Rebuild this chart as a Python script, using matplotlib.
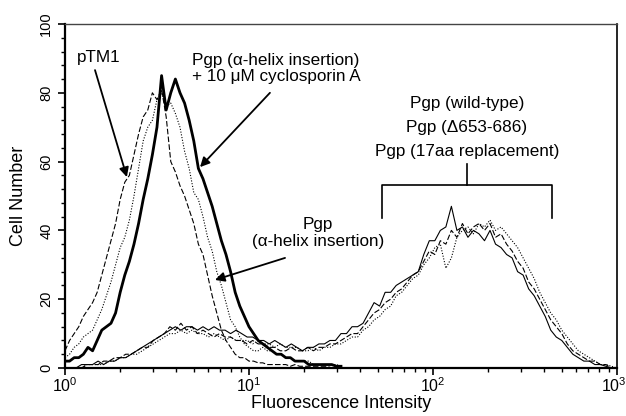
import numpy as np
import matplotlib
matplotlib.use("Agg")
import matplotlib.pyplot as plt
from matplotlib.ticker import FixedLocator, MultipleLocator, FuncFormatter

plt.rcParams['font.family'] = ['Liberation Sans', 'DejaVu Sans']
plt.rcParams['mathtext.fontset'] = 'custom'
plt.rcParams['mathtext.rm'] = 'Liberation Sans'

# channel grids (log10 of fluorescence), histogram bins are log spaced
left_log = np.arange(0, 61) * 0.025     # 10^0 .. 10^1.5
right_log = np.arange(0, 101) * 0.03    # 10^0 .. 10^3

# left group: low-expressing / cyclosporin treated
csa_counts = [2, 2, 3, 3, 4, 6, 5, 8, 11, 12, 13, 16, 22, 27, 31, 36, 42, 49, 55, 62,
              70, 85, 75, 80, 84, 80, 77, 72, 66, 58, 55, 51, 47, 42, 37, 33, 28, 22, 18, 15,
              12, 10, 8, 7, 6, 5, 4, 4, 3, 3, 2, 2, 2, 1, 1, 1, 1, 1, 1, 0.5, 0.5]
ptm1_counts = [5, 8, 10, 12, 15, 17, 19, 22, 27, 32, 37, 42, 49, 54, 56, 62, 68, 73, 75, 80,
               78, 81, 73, 60, 57, 53, 50, 46, 42, 36, 33, 27, 21, 16, 11, 8, 6, 4, 3, 3,
               2, 2, 1.5, 1.5, 1, 1, 1, 1, 1, 0.5, 1, 0.5, 0.5, 0.5, 0.5, 0.5, 0.5, 0.5, 0, 0, 0]
helix_counts = [3, 4, 6, 7, 9, 10, 11, 14, 17, 21, 25, 30, 35, 38, 43, 50, 58, 66, 70, 72,
                78, 80, 76, 77, 74, 70, 63, 58, 51, 49, 44, 38, 34, 28, 24, 19, 14, 12, 9, 7,
                6, 5, 5, 6, 5, 5, 4, 4, 3, 3, 2, 2, 2, 2, 1, 1, 1, 1, 1, 1, 0.5]

# right group: wild-type, deletion, 17aa replacement
wt_counts = [0, 0, 0, 1, 1, 1, 2, 1, 2, 2, 3, 3, 4, 5, 6, 7, 8, 9, 10, 11,
             12, 11, 12, 12, 11, 12, 11, 12, 11, 11, 10, 11, 10, 9, 9, 8, 8, 7, 8, 7,
             6, 7, 6, 5, 6, 6, 7, 7, 8, 8, 10, 10, 12, 12, 13, 16, 19, 18, 22, 22,
             24, 25, 26, 27, 28, 33, 37, 37, 40, 41, 47, 40, 41, 38, 40, 39, 37, 40, 36, 35,
             33, 32, 28, 27, 23, 21, 18, 15, 11, 9, 8, 6, 4, 3, 2, 2, 1, 1, 0.5, 0, 0]
del_counts = [0, 0, 0, 0, 1, 1, 1, 2, 2, 3, 3, 4, 4, 5, 6, 6, 8, 9, 10, 12,
              11, 13, 11, 12, 10, 11, 10, 9, 10, 9, 9, 8, 8, 7, 8, 7, 7, 6, 6, 5,
              5, 6, 5, 5, 6, 5, 6, 6, 7, 7, 8, 9, 10, 10, 12, 14, 16, 17, 19, 20,
              22, 23, 25, 27, 28, 31, 34, 33, 37, 36, 40, 38, 42, 39, 41, 42, 40, 42, 38, 39,
              36, 34, 31, 29, 25, 23, 20, 17, 14, 12, 10, 7, 5, 4, 3, 2, 2, 1, 1, 0, 0]
rep_counts = [0, 0, 0, 0, 1, 1, 1, 1, 2, 2, 3, 3, 4, 4, 5, 6, 7, 8, 9, 10,
              10, 11, 10, 11, 10, 10, 9, 10, 9, 8, 9, 8, 8, 8, 7, 8, 7, 7, 6, 7,
              6, 6, 6, 5, 5, 6, 5, 6, 6, 7, 7, 8, 9, 9, 11, 12, 14, 15, 17, 18,
              21, 22, 24, 26, 27, 30, 32, 35, 36, 29, 32, 38, 40, 41, 39, 42, 41, 43, 40, 41,
              39, 37, 35, 32, 29, 26, 22, 19, 16, 14, 11, 9, 7, 5, 4, 3, 2, 1, 1, 0.5, 0]

fig = plt.figure(figsize=(6.26, 4.16), dpi=100)
ax = fig.add_axes([0.1038, 0.1154, 0.8818, 0.8269])

thin = 0.8
ax.plot(10 ** right_log, wt_counts, color='black', lw=thin)
ax.plot(10 ** right_log, del_counts, color='black', lw=thin, ls=(0, (5, 2)))
ax.plot(10 ** right_log, rep_counts, color='black', lw=thin, ls=(0, (1, 1.5)))
ax.plot(10 ** left_log, ptm1_counts, color='black', lw=thin, ls=(0, (5, 2)))
ax.plot(10 ** left_log, helix_counts, color='black', lw=thin, ls=(0, (1, 1.5)))
ax.plot(10 ** left_log, csa_counts, color='black', lw=2.0)

ax.set_xscale('log')
ax.set_xlim(1, 1000)
ax.set_ylim(0, 100)

ax.xaxis.set_major_locator(FixedLocator([1, 10, 100, 1000]))
ax.xaxis.set_major_formatter(FuncFormatter(
    lambda v, p: r'$\mathregular{10^{%d}}$' % int(round(np.log10(v)))))
ax.yaxis.set_major_locator(MultipleLocator(20))
ax.yaxis.set_minor_locator(MultipleLocator(4))
ax.tick_params(axis='both', which='major', direction='out', length=5, width=1.2, labelsize=11.5)
ax.tick_params(axis='both', which='minor', direction='out', length=3, width=1)
ax.tick_params(axis='x', pad=1)
ax.tick_params(axis='y', labelrotation=90, labelsize=10.5)
for lbl in ax.get_yticklabels():
    lbl.set_va('center')

for side in ['left', 'bottom']:
    ax.spines[side].set_linewidth(1.6)
ax.spines['right'].set_linewidth(1.2)
ax.spines['top'].set_linewidth(1.0)
ax.spines['top'].set_color('#444444')

ax.set_xlabel('Fluorescence Intensity', fontsize=13, labelpad=0)
ax.set_ylabel('Cell Number', fontsize=13, labelpad=9)

arrow = dict(arrowstyle='-|>', color='black', lw=1.3, mutation_scale=14,
             shrinkA=0, shrinkB=0)
txt = 12.3

ax.text(1.53, 90.4, 'pTM1', fontsize=txt, ha='center', va='center')
ax.annotate('', xy=(2.17, 55.5), xytext=(1.456, 86.6), arrowprops=arrow)

ax.text(14.0, 87.0, 'Pgp (\u03b1-helix insertion)\n+ 10 \u03bcM cyclosporin A',
        fontsize=txt, ha='center', va='center', linespacing=1.05)
ax.annotate('', xy=(5.42, 58.4), xytext=(13.0, 80.0), arrowprops=arrow)

ax.text(23.7, 39.2, 'Pgp\n(\u03b1-helix insertion)', fontsize=txt,
        ha='center', va='center', linespacing=1.15)
ax.annotate('', xy=(6.53, 25.6), xytext=(15.7, 32.0), arrowprops=arrow)

ax.text(153, 69.8, 'Pgp (wild-type)\nPgp (\u0394653-686)\nPgp (17aa replacement)',
        fontsize=txt, ha='center', va='center', linespacing=1.75)
ax.plot([153, 153], [59.3, 53.2], color='black', lw=1.2)
ax.plot([52.8, 52.8, 443, 443], [43.6, 53.2, 53.2, 43.6], color='black', lw=1.2)

# keep the 10^3 label inside the figure edge
fig.canvas.draw()
last = ax.get_xticklabels()[-1]
last.set_horizontalalignment('right')
last.set_x(1000)
from matplotlib.transforms import ScaledTranslation
last.set_transform(last.get_transform() + ScaledTranslation(0.1, 0, fig.dpi_scale_trans))

fig.savefig('out.png', dpi=100)
